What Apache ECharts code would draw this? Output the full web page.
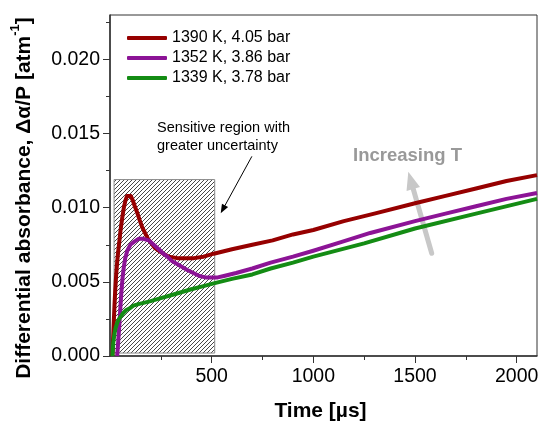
<!DOCTYPE html>
<html>
<head>
<meta charset="utf-8">
<script src="https://cdn.jsdelivr.net/npm/echarts@6/dist/echarts.min.js"></script>
<style>
  html, body { margin: 0; padding: 0; background: #fff; }
  #chart { width: 539px; height: 421px; }
</style>
</head>
<body>
<div id="chart"></div>
<script>
// Differential absorbance traces (time in microseconds, value in 1/atm)
const seriesNames = ['1390 K, 4.05 bar', '1352 K, 3.86 bar', '1339 K, 3.78 bar'];

const timeRed = [12, 15, 18, 22, 26, 30, 35, 40, 45, 52, 60, 68, 76, 84, 93, 102, 112, 122, 133, 145, 158, 172, 187, 203, 220, 240, 262, 290, 331, 370, 413, 460, 510, 600, 700, 800, 900, 1000, 1150, 1300, 1500, 1650, 1800, 1950, 2100];
const absRed  = [0, 0.0011, 0.0021, 0.0034, 0.0045, 0.0054, 0.0063, 0.0070, 0.0076, 0.0085, 0.0093, 0.0100, 0.0105, 0.0108, 0.0109, 0.0108, 0.0105, 0.0101, 0.0097, 0.0092, 0.0087, 0.0083, 0.0079, 0.0076, 0.0073, 0.0071, 0.0069, 0.0067, 0.0066, 0.0066, 0.0066, 0.0067, 0.0069, 0.0072, 0.0075, 0.0078, 0.0082, 0.0085, 0.0091, 0.0096, 0.0103, 0.0108, 0.0113, 0.0118, 0.0122];

const timePurple = [35, 38, 41, 45, 49, 53, 57, 62, 68, 75, 85, 100, 118, 140, 165, 190, 215, 240, 262, 282, 305, 330, 355, 380, 410, 440, 470, 500, 530, 560, 620, 700, 790, 900, 1000, 1140, 1280, 1500, 1650, 1800, 1950, 2100];
const absPurple  = [0, 0.0005, 0.0011, 0.0019, 0.0028, 0.0037, 0.0045, 0.0053, 0.0060, 0.0066, 0.0071, 0.0075, 0.0077, 0.0079, 0.0079, 0.0078, 0.0075, 0.0072, 0.0069, 0.0067, 0.0064, 0.0062, 0.0060, 0.0058, 0.0056, 0.0054, 0.0053, 0.0053, 0.0053, 0.0054, 0.0056, 0.0059, 0.0063, 0.0067, 0.0071, 0.0077, 0.0083, 0.0091, 0.0096, 0.0101, 0.0106, 0.0110];

const timeGreen = [12, 14, 16, 19, 22, 26, 30, 37, 45, 55, 65, 80, 95, 115, 140, 170, 200, 250, 300, 350, 400, 455, 510, 600, 700, 790, 900, 1000, 1250, 1500, 1800, 2100];
const absGreen  = [0, 0.0005, 0.0009, 0.0012, 0.0015, 0.0018, 0.0020, 0.0023, 0.0025, 0.0027, 0.0029, 0.0031, 0.0032, 0.0034, 0.0035, 0.0036, 0.0037, 0.0039, 0.0041, 0.0043, 0.0045, 0.0047, 0.0049, 0.0052, 0.0055, 0.0059, 0.0063, 0.0067, 0.0076, 0.0086, 0.0096, 0.0106];

// Shaded early-time region
const regionTime = [20, 515];
const regionAbs = [0.0002, 0.0119];

// Axis ticks
const xMajorTicks = [500, 1000, 1500, 2000];
const xMinorTicks = [250, 750, 1250, 1750];
const yMajorTicks = [0, 0.005, 0.010, 0.015, 0.020];
const yMinorTicks = [0.0025, 0.0075, 0.0125, 0.0175, 0.0225];

const colors = ['#960000', '#8c1496', '#148c14'];
const FONT = 'Liberation Sans, Arial, Helvetica, sans-serif';

function pairs(xs, ys) { return xs.map((x, i) => [x, ys[i]]); }

// Diagonal hatch tile
function hatchTile() {
  const c = document.createElement('canvas');
  c.width = 8; c.height = 8;
  const g = c.getContext('2d');
  g.strokeStyle = '#333';
  g.lineWidth = 0.9;
  for (let k = -8; k <= 8; k += 4) {
    g.beginPath();
    g.moveTo(k, 8);
    g.lineTo(k + 8, 0);
    g.stroke();
  }
  return c;
}

// Arrow drawn as a shaft plus a filled head
function arrow(x0, y0, x1, y1, width, headLen, headHalf, color) {
  const dx = x1 - x0, dy = y1 - y0;
  const len = Math.sqrt(dx * dx + dy * dy);
  const ux = dx / len, uy = dy / len;
  const nx = -uy, ny = ux;
  const bx = x1 - headLen * ux, by = y1 - headLen * uy;
  return {
    type: 'group',
    children: [
      { type: 'line', shape: { x1: x0, y1: y0, x2: bx, y2: by },
        style: { stroke: color, lineWidth: width, lineCap: 'round' } },
      { type: 'polygon', shape: { points: [[x1, y1], [bx + headHalf * nx, by + headHalf * ny], [bx - headHalf * nx, by - headHalf * ny]] },
        style: { fill: color } }
    ]
  };
}

const chart = echarts.init(document.getElementById('chart'), null, { renderer: 'canvas' });

const lineSeries = [[timeRed, absRed], [timePurple, absPurple], [timeGreen, absGreen]].map((d, i) => ({
  name: seriesNames[i],
  type: 'line',
  data: pairs(d[0], d[1]),
  showSymbol: false,
  smooth: false,
  lineStyle: { width: 4, color: colors[i], join: 'round' },
  itemStyle: { color: colors[i] },
  z: 3
}));

const regionSeries = {
  name: 'region',
  type: 'line',
  data: [],
  silent: true,
  markArea: {
    silent: true,
    itemStyle: {
      color: { image: hatchTile(), repeat: 'repeat' },
      borderColor: '#8a8a8a',
      borderWidth: 1
    },
    data: [[{ coord: [regionTime[0], regionAbs[0]] }, { coord: [regionTime[1], regionAbs[1]] }]]
  },
  z: 1
};

const option = {
  animation: false,
  backgroundColor: '#fff',
  grid: {
    left: 110, right: 2, top: 15, bottom: 65,
    containLabel: false, outerBoundsMode: 'none',
    show: true, borderColor: '#333', borderWidth: 1, backgroundColor: 'transparent'
  },
  legend: {
    data: seriesNames,
    orient: 'vertical',
    left: 122, top: 25,
    itemWidth: 40, itemHeight: 4, itemGap: 4,
    icon: 'roundRect',
    textStyle: { fontFamily: FONT, fontSize: 16, color: '#000' }
  },
  xAxis: [{
    type: 'value', min: 0, max: 2100,
    name: 'Time [µs]', nameLocation: 'middle', nameGap: 45,
    nameTextStyle: { fontFamily: FONT, fontSize: 21, fontWeight: 'bold', color: '#000', padding: [0, 6, 0, 0] },
    axisLine: { show: true, lineStyle: { color: '#333', width: 1.5 } },
    axisTick: { show: true, inside: false, length: 7, customValues: xMajorTicks, lineStyle: { color: '#333' } },
    axisLabel: { customValues: xMajorTicks, margin: 11, fontFamily: FONT, fontSize: 19.5, color: '#000',
      formatter: v => String(v) },
    splitLine: { show: false }
  }, {
    type: 'value', min: 0, max: 2100, position: 'bottom',
    axisLine: { show: false },
    axisTick: { show: true, length: 4, customValues: xMinorTicks, lineStyle: { color: '#333' } },
    axisLabel: { show: false },
    splitLine: { show: false }
  }],
  yAxis: [{
    type: 'value', min: 0, max: 0.023,
    axisLine: { show: true, lineStyle: { color: '#333', width: 1.5 } },
    axisTick: { show: true, length: 7, customValues: yMajorTicks, lineStyle: { color: '#333' } },
    axisLabel: {
      customValues: yMajorTicks, margin: 10, fontFamily: FONT, fontSize: 19.5, color: '#000',
      formatter: v => v.toFixed(3)
    },
    splitLine: { show: false }
  }, {
    type: 'value', min: 0, max: 0.023, position: 'left',
    axisLine: { show: false },
    axisTick: { show: true, length: 4, customValues: yMinorTicks, lineStyle: { color: '#333' } },
    axisLabel: { show: false },
    splitLine: { show: false }
  }],
  series: [regionSeries].concat(lineSeries),
  graphic: [
    {
      type: 'text', x: 22, y: 198, rotation: Math.PI / 2,
      style: {
        x: 0, y: 0, align: 'center', verticalAlign: 'middle',
        text: '{b|Differential absorbance, Δα/P [atm}{s|-1}{b|]}',
        rich: {
          b: { fontFamily: FONT, fontSize: 21, fontWeight: 'bold', fill: '#000', lineHeight: 26, verticalAlign: 'bottom' },
          s: { fontFamily: FONT, fontSize: 13, fontWeight: 'bold', fill: '#000', lineHeight: 26, verticalAlign: 'top', padding: [0, 0, 12, 0] }
        }
      }
    },
    {
      type: 'text', x: 157, y: 119,
      style: {
        text: 'Sensitive region with\ngreater uncertainty',
        fontFamily: FONT, fontSize: 14.5, lineHeight: 18, fill: '#000',
        align: 'left', verticalAlign: 'top'
      }
    },
    arrow(251.7, 156.7, 220.7, 213.3, 1, 9, 3.5, '#000'),
    {
      type: 'text', x: 353, y: 156,
      style: {
        text: 'Increasing T',
        fontFamily: FONT, fontSize: 18.5, fontWeight: 'bold', fill: '#999',
        align: 'left', verticalAlign: 'middle'
      }
    },
    arrow(431.7, 253.3, 408.3, 171.7, 5, 18, 7, '#c8c8c8')
  ]
};

chart.setOption(option);
</script>
</body>
</html>
